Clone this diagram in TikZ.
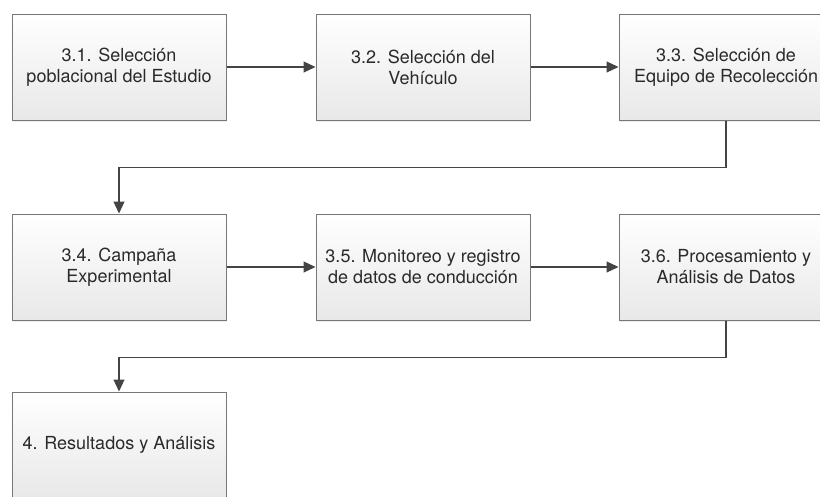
\documentclass[tikz,border=0pt]{standalone}
\usepackage{fontspec}
\setmainfont{TeX Gyre Heros}
\usepackage{xcolor}
\usepackage{tikz}
\usetikzlibrary{arrows.meta}
\usetikzlibrary{shadows}

\definecolor{boxline}{HTML}{777777}
\definecolor{arrowcol}{HTML}{444444}
\definecolor{txtcol}{HTML}{2A2A2A}

\tikzset{
  stage/.style={rectangle, draw=boxline, line width=1pt, top color=white, bottom color=black!9,
    minimum width=214pt, minimum height=106pt, align=center, text=txtcol,
    font=\fontsize{18}{21}\selectfont, inner sep=0pt,
    drop shadow={opacity=.15, shadow xshift=1pt, shadow yshift=-1.5pt}},
  flow/.style={draw=arrowcol, line width=1.2pt, -{Triangle[length=12pt,width=11pt]}}
}

\begin{document}
\begin{tikzpicture}[x=1pt,y=-1pt]
                    \useasboundingbox (0,0) rectangle (820,496);
                    \clip (0,0) rectangle (820,496);
                    \node[stage] (s31) at (119,67) {3.1. Selección\\poblacional del Estudio};
                    \node[stage] (s32) at (423,67) {3.2. Selección del\\Vehículo};
                    \node[stage] (s33) at (726,67) {3.3. Selección de\\Equipo de Recolección};
                    \node[stage] (s34) at (119,267) {3.4. Campaña\\Experimental};
                    \node[stage] (s35) at (423,267) {3.5. Monitoreo y registro\\de datos de conducción};
                    \node[stage] (s36) at (726,267) {3.6. Procesamiento y\\Análisis de Datos};
                    \node[stage] (s4) at (119,445) {4. Resultados y Análisis};
                    \draw [flow] (s31.east) -- (s32.west);
                    \draw [flow] (s32.east) -- (s33.west);
                    \draw [flow] (s33.south) -- ++(0,47) -| (s34.north);
                    \draw [flow] (s34.east) -- (s35.west);
                    \draw [flow] (s35.east) -- (s36.west);
                    \draw [flow] (s36.south) -- ++(0,37) -| (s4.north);
                \end{tikzpicture}
\end{document}
